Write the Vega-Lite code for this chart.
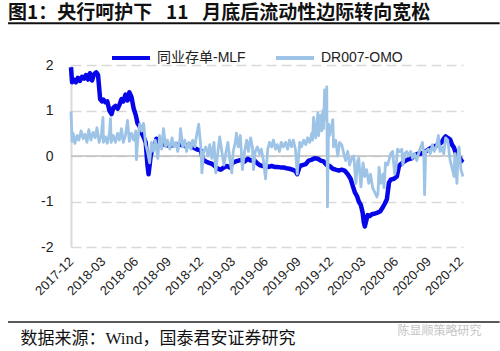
{
  "$schema": "https://vega.github.io/schema/vega-lite/v6.json",
  "width": 392,
  "height": 182,
  "autosize": "none",
  "padding": {"left": 71, "top": 65, "right": 37, "bottom": 104},
  "background": "white",
  "title": {
    "text": "图1：央行呵护下\u2002 11\u2002 月底后流动性边际转向宽松",
    "anchor": "start",
    "frame": "group",
    "dx": -63,
    "dy": 19,
    "offset": 3,
    "baseline": "alphabetic",
    "fontSize": 19,
    "fontWeight": "bold",
    "font": "Noto Sans CJK SC",
    "color": "#111111"
  },
  "datasets": {
    "a": [
      {"d": "2017-12-01", "v": 1.95}, {"d": "2017-12-04", "v": 1.62}, {"d": "2017-12-09", "v": 1.68},
      {"d": "2017-12-15", "v": 1.62}, {"d": "2017-12-20", "v": 1.72}, {"d": "2017-12-26", "v": 1.65},
      {"d": "2018-01-01", "v": 1.74}, {"d": "2018-01-07", "v": 1.7}, {"d": "2018-01-12", "v": 1.78},
      {"d": "2018-01-18", "v": 1.68}, {"d": "2018-01-23", "v": 1.82}, {"d": "2018-01-29", "v": 1.66},
      {"d": "2018-02-04", "v": 1.8}, {"d": "2018-02-10", "v": 1.84}, {"d": "2018-02-15", "v": 1.78},
      {"d": "2018-02-21", "v": 1.25}, {"d": "2018-02-26", "v": 1.2}, {"d": "2018-03-02", "v": 1.24},
      {"d": "2018-03-08", "v": 1.18}, {"d": "2018-03-13", "v": 1.2}, {"d": "2018-03-19", "v": 1.0},
      {"d": "2018-03-25", "v": 0.92}, {"d": "2018-03-30", "v": 1.06}, {"d": "2018-04-05", "v": 1.1},
      {"d": "2018-04-11", "v": 1.04}, {"d": "2018-04-16", "v": 1.12}, {"d": "2018-04-22", "v": 1.25},
      {"d": "2018-04-27", "v": 1.2}, {"d": "2018-05-03", "v": 1.35}, {"d": "2018-05-09", "v": 1.22},
      {"d": "2018-05-14", "v": 1.4}, {"d": "2018-05-20", "v": 1.3}, {"d": "2018-05-26", "v": 1.05},
      {"d": "2018-06-01", "v": 0.9}, {"d": "2018-06-06", "v": 0.72}, {"d": "2018-06-12", "v": 0.65},
      {"d": "2018-06-18", "v": 0.5}, {"d": "2018-06-23", "v": 0.42}, {"d": "2018-06-29", "v": 0.3},
      {"d": "2018-07-04", "v": -0.2}, {"d": "2018-07-07", "v": -0.4}, {"d": "2018-07-13", "v": 0.0},
      {"d": "2018-07-18", "v": 0.15}, {"d": "2018-07-24", "v": 0.2}, {"d": "2018-07-29", "v": 0.38},
      {"d": "2018-08-07", "v": 0.3}, {"d": "2018-08-21", "v": 0.25}, {"d": "2018-09-05", "v": 0.22},
      {"d": "2018-09-19", "v": 0.25}, {"d": "2018-10-03", "v": 0.25}, {"d": "2018-10-17", "v": 0.22},
      {"d": "2018-10-31", "v": 0.25}, {"d": "2018-11-11", "v": 0.18}, {"d": "2018-11-22", "v": 0.14},
      {"d": "2018-12-01", "v": 0.12}, {"d": "2018-12-07", "v": -0.08}, {"d": "2018-12-15", "v": -0.12},
      {"d": "2018-12-24", "v": -0.15}, {"d": "2019-01-01", "v": -0.17}, {"d": "2019-01-09", "v": -0.22},
      {"d": "2019-01-18", "v": -0.28}, {"d": "2019-01-26", "v": -0.3}, {"d": "2019-02-04", "v": -0.25},
      {"d": "2019-02-12", "v": -0.22}, {"d": "2019-02-20", "v": -0.25}, {"d": "2019-03-01", "v": -0.15},
      {"d": "2019-03-09", "v": -0.12}, {"d": "2019-03-17", "v": -0.1}, {"d": "2019-03-26", "v": -0.08},
      {"d": "2019-04-03", "v": -0.12}, {"d": "2019-04-12", "v": -0.06}, {"d": "2019-04-20", "v": -0.1},
      {"d": "2019-04-29", "v": -0.08}, {"d": "2019-05-07", "v": -0.15}, {"d": "2019-05-15", "v": -0.2},
      {"d": "2019-05-24", "v": -0.22}, {"d": "2019-06-01", "v": -0.22}, {"d": "2019-06-09", "v": -0.24},
      {"d": "2019-06-18", "v": -0.22}, {"d": "2019-06-26", "v": -0.24}, {"d": "2019-07-04", "v": -0.24},
      {"d": "2019-07-13", "v": -0.25}, {"d": "2019-07-21", "v": -0.25}, {"d": "2019-07-30", "v": -0.27},
      {"d": "2019-08-07", "v": -0.28}, {"d": "2019-08-15", "v": -0.3}, {"d": "2019-08-24", "v": -0.33},
      {"d": "2019-08-29", "v": -0.4}, {"d": "2019-09-05", "v": -0.22}, {"d": "2019-09-13", "v": -0.2},
      {"d": "2019-09-22", "v": -0.18}, {"d": "2019-09-30", "v": -0.1}, {"d": "2019-10-09", "v": -0.08},
      {"d": "2019-10-17", "v": -0.05}, {"d": "2019-10-26", "v": -0.06}, {"d": "2019-11-03", "v": -0.1},
      {"d": "2019-11-11", "v": -0.12}, {"d": "2019-11-20", "v": -0.2}, {"d": "2019-11-28", "v": -0.22},
      {"d": "2019-12-07", "v": -0.28}, {"d": "2019-12-15", "v": -0.3}, {"d": "2019-12-24", "v": -0.32},
      {"d": "2020-01-01", "v": -0.3}, {"d": "2020-01-09", "v": -0.32}, {"d": "2020-01-18", "v": -0.4},
      {"d": "2020-01-26", "v": -0.5}, {"d": "2020-02-02", "v": -0.68}, {"d": "2020-02-07", "v": -0.8},
      {"d": "2020-02-13", "v": -0.88}, {"d": "2020-02-18", "v": -1.0}, {"d": "2020-02-24", "v": -1.08},
      {"d": "2020-02-29", "v": -1.25}, {"d": "2020-03-03", "v": -1.45}, {"d": "2020-03-06", "v": -1.55},
      {"d": "2020-03-09", "v": -1.45}, {"d": "2020-03-14", "v": -1.3}, {"d": "2020-03-20", "v": -1.32},
      {"d": "2020-03-26", "v": -1.28}, {"d": "2020-04-01", "v": -1.27}, {"d": "2020-04-09", "v": -1.25},
      {"d": "2020-04-18", "v": -1.22}, {"d": "2020-04-26", "v": -1.12}, {"d": "2020-05-01", "v": -1.05},
      {"d": "2020-05-07", "v": -0.95}, {"d": "2020-05-13", "v": -0.58}, {"d": "2020-05-18", "v": -0.52},
      {"d": "2020-05-27", "v": -0.5}, {"d": "2020-06-04", "v": -0.45}, {"d": "2020-06-10", "v": -0.22},
      {"d": "2020-06-15", "v": -0.18}, {"d": "2020-06-21", "v": -0.14}, {"d": "2020-06-29", "v": -0.1},
      {"d": "2020-07-07", "v": -0.07}, {"d": "2020-07-16", "v": -0.05}, {"d": "2020-07-24", "v": 0.02},
      {"d": "2020-08-02", "v": 0.05}, {"d": "2020-08-10", "v": 0.05}, {"d": "2020-08-19", "v": 0.08},
      {"d": "2020-08-27", "v": 0.12}, {"d": "2020-09-04", "v": 0.16}, {"d": "2020-09-13", "v": 0.2},
      {"d": "2020-09-21", "v": 0.22}, {"d": "2020-09-30", "v": 0.26}, {"d": "2020-10-08", "v": 0.3},
      {"d": "2020-10-14", "v": 0.38}, {"d": "2020-10-19", "v": 0.43}, {"d": "2020-10-25", "v": 0.4},
      {"d": "2020-11-01", "v": 0.36}, {"d": "2020-11-06", "v": 0.25}, {"d": "2020-11-12", "v": 0.18},
      {"d": "2020-11-17", "v": 0.05}, {"d": "2020-11-23", "v": 0.0}, {"d": "2020-11-29", "v": -0.05},
      {"d": "2020-12-04", "v": -0.12}, {"d": "2020-12-07", "v": -0.14}
    ],
    "b": [
      {"d": "2017-12-01", "v": 0.98}, {"d": "2017-12-04", "v": 0.32}, {"d": "2017-12-07", "v": 0.5},
      {"d": "2017-12-12", "v": 0.28}, {"d": "2017-12-18", "v": 0.45}, {"d": "2017-12-23", "v": 0.35},
      {"d": "2017-12-29", "v": 0.55}, {"d": "2018-01-04", "v": 0.38}, {"d": "2018-01-09", "v": 0.48},
      {"d": "2018-01-15", "v": 0.3}, {"d": "2018-01-20", "v": 0.58}, {"d": "2018-01-26", "v": 0.35},
      {"d": "2018-02-01", "v": 0.52}, {"d": "2018-02-07", "v": 0.4}, {"d": "2018-02-12", "v": 0.62},
      {"d": "2018-02-18", "v": 0.3}, {"d": "2018-02-24", "v": 0.45}, {"d": "2018-03-01", "v": 0.85},
      {"d": "2018-03-02", "v": 0.3}, {"d": "2018-03-08", "v": 0.42}, {"d": "2018-03-13", "v": 0.28},
      {"d": "2018-03-19", "v": 0.5}, {"d": "2018-03-22", "v": 0.82}, {"d": "2018-03-24", "v": 0.3},
      {"d": "2018-03-30", "v": 0.45}, {"d": "2018-04-05", "v": 0.3}, {"d": "2018-04-11", "v": 0.5},
      {"d": "2018-04-16", "v": 0.35}, {"d": "2018-04-22", "v": 0.6}, {"d": "2018-04-27", "v": 0.3},
      {"d": "2018-05-03", "v": 0.45}, {"d": "2018-05-09", "v": 0.78}, {"d": "2018-05-14", "v": 0.32},
      {"d": "2018-05-20", "v": 0.5}, {"d": "2018-05-26", "v": 0.35}, {"d": "2018-06-01", "v": 0.55},
      {"d": "2018-06-03", "v": -0.08}, {"d": "2018-06-06", "v": 0.3}, {"d": "2018-06-12", "v": 0.7},
      {"d": "2018-06-18", "v": 0.55}, {"d": "2018-06-23", "v": 0.72}, {"d": "2018-06-29", "v": 0.25},
      {"d": "2018-07-04", "v": 0.1}, {"d": "2018-07-10", "v": -0.15}, {"d": "2018-07-15", "v": 0.3},
      {"d": "2018-07-21", "v": 0.1}, {"d": "2018-07-26", "v": 0.35}, {"d": "2018-08-02", "v": -0.05},
      {"d": "2018-08-07", "v": 0.45}, {"d": "2018-08-13", "v": 0.15}, {"d": "2018-08-18", "v": 0.6},
      {"d": "2018-08-24", "v": 0.2}, {"d": "2018-08-29", "v": 0.35}, {"d": "2018-09-05", "v": 0.15},
      {"d": "2018-09-11", "v": 0.4}, {"d": "2018-09-16", "v": 0.2}, {"d": "2018-09-22", "v": 0.3},
      {"d": "2018-09-27", "v": 0.1}, {"d": "2018-10-03", "v": 0.35}, {"d": "2018-10-05", "v": 0.6},
      {"d": "2018-10-11", "v": 0.2}, {"d": "2018-10-17", "v": 0.35}, {"d": "2018-10-22", "v": 0.1},
      {"d": "2018-10-28", "v": 0.3}, {"d": "2018-11-03", "v": 0.15}, {"d": "2018-11-08", "v": 0.35},
      {"d": "2018-11-14", "v": 0.2}, {"d": "2018-11-19", "v": 0.45}, {"d": "2018-11-25", "v": 0.7},
      {"d": "2018-12-01", "v": 0.2}, {"d": "2018-12-04", "v": -0.37}, {"d": "2018-12-09", "v": 0.1},
      {"d": "2018-12-15", "v": 0.2}, {"d": "2018-12-21", "v": 0.0}, {"d": "2018-12-26", "v": 0.25},
      {"d": "2019-01-01", "v": -0.05}, {"d": "2019-01-07", "v": 0.3}, {"d": "2019-01-12", "v": -0.37},
      {"d": "2019-01-18", "v": 0.1}, {"d": "2019-01-23", "v": 0.42}, {"d": "2019-01-29", "v": 0.1},
      {"d": "2019-02-04", "v": -0.2}, {"d": "2019-02-10", "v": 0.1}, {"d": "2019-02-15", "v": 0.3},
      {"d": "2019-02-21", "v": -0.1}, {"d": "2019-02-26", "v": -0.37}, {"d": "2019-03-02", "v": 0.1},
      {"d": "2019-03-08", "v": 0.3}, {"d": "2019-03-11", "v": 0.5}, {"d": "2019-03-16", "v": 0.2},
      {"d": "2019-03-22", "v": 0.45}, {"d": "2019-03-28", "v": -0.3}, {"d": "2019-04-03", "v": 0.1},
      {"d": "2019-04-09", "v": 0.35}, {"d": "2019-04-14", "v": 0.1}, {"d": "2019-04-20", "v": 0.4},
      {"d": "2019-04-25", "v": 0.2}, {"d": "2019-04-28", "v": -0.3}, {"d": "2019-05-03", "v": 0.1},
      {"d": "2019-05-09", "v": 0.2}, {"d": "2019-05-15", "v": 0.05}, {"d": "2019-05-20", "v": 0.15},
      {"d": "2019-05-26", "v": -0.1}, {"d": "2019-06-01", "v": -0.5}, {"d": "2019-06-07", "v": 0.15},
      {"d": "2019-06-12", "v": 0.3}, {"d": "2019-06-18", "v": 0.2}, {"d": "2019-06-23", "v": 0.35},
      {"d": "2019-06-29", "v": 0.15}, {"d": "2019-07-04", "v": 0.25}, {"d": "2019-07-10", "v": 0.1},
      {"d": "2019-07-15", "v": 0.3}, {"d": "2019-07-21", "v": 0.2}, {"d": "2019-07-27", "v": 0.3},
      {"d": "2019-08-02", "v": 0.15}, {"d": "2019-08-07", "v": 0.35}, {"d": "2019-08-13", "v": 0.2},
      {"d": "2019-08-18", "v": 0.35}, {"d": "2019-08-24", "v": 0.15}, {"d": "2019-08-29", "v": -0.4},
      {"d": "2019-09-05", "v": 0.3}, {"d": "2019-09-10", "v": 0.2}, {"d": "2019-09-16", "v": 0.35},
      {"d": "2019-09-22", "v": 0.25}, {"d": "2019-09-27", "v": 0.4}, {"d": "2019-10-03", "v": 0.3},
      {"d": "2019-10-09", "v": 0.5}, {"d": "2019-10-11", "v": 0.35}, {"d": "2019-10-14", "v": 0.85},
      {"d": "2019-10-20", "v": 0.4}, {"d": "2019-10-26", "v": 0.95}, {"d": "2019-10-28", "v": 0.45},
      {"d": "2019-11-03", "v": 0.9}, {"d": "2019-11-06", "v": 0.55}, {"d": "2019-11-09", "v": 1.0},
      {"d": "2019-11-11", "v": 0.6}, {"d": "2019-11-14", "v": 1.45}, {"d": "2019-11-17", "v": 0.8},
      {"d": "2019-11-20", "v": 1.52}, {"d": "2019-11-22", "v": -1.12}, {"d": "2019-11-25", "v": 0.7},
      {"d": "2019-11-28", "v": 0.45}, {"d": "2019-12-01", "v": 0.55}, {"d": "2019-12-07", "v": 0.8},
      {"d": "2019-12-09", "v": 0.2}, {"d": "2019-12-15", "v": 0.35}, {"d": "2019-12-21", "v": 0.0},
      {"d": "2019-12-26", "v": 0.3}, {"d": "2020-01-01", "v": 0.25}, {"d": "2020-01-07", "v": 0.05},
      {"d": "2020-01-12", "v": -0.1}, {"d": "2020-01-18", "v": 0.1}, {"d": "2020-01-23", "v": -0.2},
      {"d": "2020-01-29", "v": -0.05}, {"d": "2020-02-04", "v": 0.0}, {"d": "2020-02-10", "v": -0.6},
      {"d": "2020-02-15", "v": -0.1}, {"d": "2020-02-18", "v": -0.05}, {"d": "2020-02-24", "v": -0.68},
      {"d": "2020-03-01", "v": -0.15}, {"d": "2020-03-06", "v": -0.45}, {"d": "2020-03-11", "v": -0.3},
      {"d": "2020-03-17", "v": -0.6}, {"d": "2020-03-22", "v": -0.4}, {"d": "2020-03-28", "v": -0.7},
      {"d": "2020-04-03", "v": -0.8}, {"d": "2020-04-09", "v": -0.9}, {"d": "2020-04-12", "v": -0.82},
      {"d": "2020-04-15", "v": -0.25}, {"d": "2020-04-20", "v": -0.6}, {"d": "2020-04-26", "v": -0.4},
      {"d": "2020-04-29", "v": -0.7}, {"d": "2020-05-03", "v": -0.15}, {"d": "2020-05-09", "v": -0.2},
      {"d": "2020-05-18", "v": 0.05}, {"d": "2020-05-23", "v": 0.1}, {"d": "2020-05-29", "v": -0.4},
      {"d": "2020-06-01", "v": -0.3}, {"d": "2020-06-06", "v": 0.15}, {"d": "2020-06-12", "v": 0.1},
      {"d": "2020-06-18", "v": 0.15}, {"d": "2020-06-21", "v": -0.2}, {"d": "2020-06-26", "v": 0.05},
      {"d": "2020-07-02", "v": 0.1}, {"d": "2020-07-07", "v": 0.0}, {"d": "2020-07-13", "v": 0.1},
      {"d": "2020-07-18", "v": -0.05}, {"d": "2020-07-24", "v": 0.05}, {"d": "2020-07-30", "v": -0.1},
      {"d": "2020-08-04", "v": 0.05}, {"d": "2020-08-10", "v": 0.2}, {"d": "2020-08-15", "v": 0.3},
      {"d": "2020-08-19", "v": 0.0}, {"d": "2020-08-21", "v": -0.85}, {"d": "2020-08-24", "v": 0.1},
      {"d": "2020-09-01", "v": 0.15}, {"d": "2020-09-06", "v": 0.05}, {"d": "2020-09-12", "v": 0.25},
      {"d": "2020-09-17", "v": 0.1}, {"d": "2020-09-23", "v": 0.2}, {"d": "2020-09-29", "v": 0.45},
      {"d": "2020-10-03", "v": 0.1}, {"d": "2020-10-08", "v": 0.2}, {"d": "2020-10-14", "v": 0.05},
      {"d": "2020-10-19", "v": 0.4}, {"d": "2020-10-25", "v": 0.35}, {"d": "2020-11-01", "v": -0.1},
      {"d": "2020-11-06", "v": -0.25}, {"d": "2020-11-12", "v": -0.45}, {"d": "2020-11-14", "v": 0.05},
      {"d": "2020-11-20", "v": -0.6}, {"d": "2020-11-23", "v": 0.05}, {"d": "2020-11-26", "v": 0.2},
      {"d": "2020-12-01", "v": -0.3}, {"d": "2020-12-07", "v": -0.45}
    ]
  },
  "layer": [
    {
      "data": {"values": [{}]},
      "mark": {"type": "rule", "color": "#bfbfbf", "strokeWidth": 1.5},
      "encoding": {"y": {"datum": 0, "type": "quantitative"}}
    },
    {
      "data": {"name": "a"},
      "mark": {"type": "line", "strokeWidth": 4.5, "strokeJoin": "round"},
      "encoding": {
        "x": {
          "field": "d",
          "type": "temporal",
          "scale": {
            "type": "utc",
            "domain": [
              {"year": 2017, "month": 12, "date": 1, "utc": true},
              {"year": 2020, "month": 12, "date": 7, "utc": true}
            ]
          },
          "axis": {
            "values": [
              {"year": 2017, "month": 12, "date": 1, "utc": true},
              {"year": 2018, "month": 3, "date": 1, "utc": true},
              {"year": 2018, "month": 6, "date": 1, "utc": true},
              {"year": 2018, "month": 9, "date": 1, "utc": true},
              {"year": 2018, "month": 12, "date": 1, "utc": true},
              {"year": 2019, "month": 3, "date": 1, "utc": true},
              {"year": 2019, "month": 6, "date": 1, "utc": true},
              {"year": 2019, "month": 9, "date": 1, "utc": true},
              {"year": 2019, "month": 12, "date": 1, "utc": true},
              {"year": 2020, "month": 3, "date": 1, "utc": true},
              {"year": 2020, "month": 6, "date": 1, "utc": true},
              {"year": 2020, "month": 9, "date": 1, "utc": true},
              {"year": 2020, "month": 12, "date": 1, "utc": true}
            ],
            "tickCount": 30,
            "labelExpr": "utcFormat(datum.value, '%Y-%m')",
            "labelAngle": -45,
            "labelAlign": "right",
            "labelBaseline": "middle",
            "labelPadding": 12,
            "labelFont": "Liberation Sans",
            "labelFontSize": 13,
            "labelColor": "#222222",
            "labelOverlap": false,
            "labelFlush": false,
            "labelBound": false,
            "domain": false,
            "ticks": false,
            "grid": false,
            "title": "数据来源：Wind，国泰君安证券研究",
            "titleX": -51,
            "titleY": 96,
            "titleAlign": "left",
            "titleBaseline": "alphabetic",
            "titleFont": "Liberation Serif, Noto Sans CJK SC",
            "titleFontSize": 17,
            "titleFontWeight": "normal",
            "titleColor": "#111111"
          }
        },
        "y": {
          "field": "v",
          "type": "quantitative",
          "scale": {"domain": [-2, 2], "nice": false, "zero": false},
          "axis": {
            "values": [-2, -1, 0, 1, 2],
            "labelExpr": "datum.value < 0 ? '-' + abs(datum.value) : '' + datum.value",
            "grid": true,
            "gridDash": [10, 5],
            "gridColor": "#d9d9d9",
            "gridWidth": 1.5,
            "domainColor": "#d9d9d9",
            "domainWidth": 2,
            "ticks": false,
            "labelPadding": 18,
            "labelFont": "Liberation Sans",
            "labelFontSize": 14,
            "labelColor": "#222222",
            "title": "陈显顺策略研究",
            "titleAngle": 0,
            "titleX": 326,
            "titleY": 265,
            "titleAlign": "left",
            "titleBaseline": "middle",
            "titleFont": "Noto Sans CJK SC",
            "titleFontSize": 12,
            "titleFontWeight": "normal",
            "titleColor": "#c4c4c4"
          }
        },
        "color": {
          "datum": "同业存单-MLF",
          "type": "nominal",
          "scale": {"domain": ["同业存单-MLF", "DR007-OMO"], "range": ["#0606E8", "#9DC3E6"]},
          "legend": {
            "orient": "none",
            "legendX": 39,
            "legendY": -28,
            "direction": "horizontal",
            "title": null,
            "symbolType": "stroke",
            "symbolSize": 1444,
            "symbolStrokeWidth": 4,
            "labelFont": "Liberation Sans, Noto Sans CJK SC",
            "labelFontSize": 14,
            "labelColor": "#222222",
            "labelOffset": 5,
            "columnPadding": 22,
            "padding": 0
          }
        }
      }
    },
    {
      "data": {"name": "b"},
      "mark": {"type": "line", "strokeWidth": 2.8, "strokeJoin": "round"},
      "encoding": {
        "x": {"field": "d", "type": "temporal"},
        "y": {"field": "v", "type": "quantitative"},
        "color": {"datum": "DR007-OMO", "type": "nominal"}
      }
    },
    {
      "data": {"values": [{}]},
      "mark": {"type": "rule", "color": "#111111", "strokeWidth": 2},
      "encoding": {
        "x": {"datum": {"year": 2017, "month": 6, "date": 7, "utc": true}, "type": "temporal"},
        "x2": {"datum": {"year": 2021, "month": 3, "date": 20, "utc": true}},
        "y": {"datum": 2.92, "type": "quantitative"}
      }
    },
    {
      "data": {"values": [{}]},
      "mark": {"type": "rule", "color": "#222222", "strokeWidth": 1.5},
      "encoding": {
        "x": {"datum": {"year": 2017, "month": 6, "date": 7, "utc": true}, "type": "temporal"},
        "x2": {"datum": {"year": 2021, "month": 3, "date": 20, "utc": true}},
        "y": {"datum": -3.65, "type": "quantitative"}
      }
    }
  ],
  "config": {"view": {"stroke": null}}
}
